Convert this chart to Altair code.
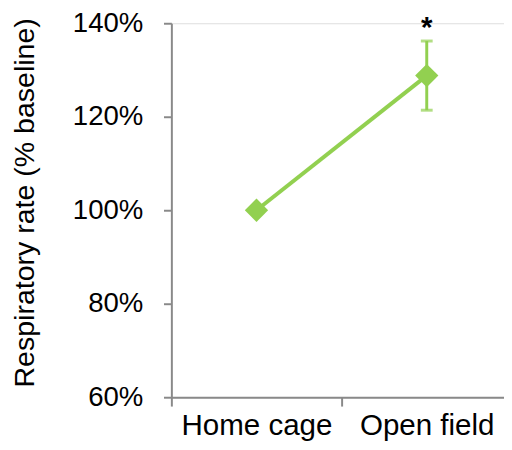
import altair as alt
import pandas as pd

conditions = ["Home cage", "Open field"]
rate_pct = [100.0, 128.8]
sem_pct = [0.0, 7.4]
significance = ["", "*"]
y_ticks = [60, 80, 100, 120, 140]

GREEN = "#92D050"
GRAY = "#898989"
FONT = "Liberation Sans"

df = pd.DataFrame({
    "cond": conditions,
    "rate": rate_pct,
    "err": sem_pct,
    "sig": significance,
})
df["lo"] = df["rate"] - df["err"]
df["hi"] = df["rate"] + df["err"]

x_enc = alt.X(
    "cond:N",
    sort=conditions,
    scale=alt.Scale(type="band", domain=conditions, range=[0, 346], paddingInner=0, paddingOuter=0),
    axis=alt.Axis(
        title=None, labelAngle=0, tickBand="extent", tickSize=9, tickWidth=2,
        domainWidth=2, domainColor=GRAY, tickColor=GRAY, labelFontSize=30,
        labelFont=FONT, labelColor="black", labelPadding=5,
    ),
)
y_scale = alt.Scale(domain=[60, 140], nice=False, zero=False)
y_axis = alt.Axis(
    title="Respiratory rate (% baseline)", values=y_ticks, labelExpr="datum.value + '%'",
    grid=False, tickSize=8, tickWidth=2, domainWidth=2, domainColor=GRAY, tickColor=GRAY,
    labelFontSize=28, labelFont=FONT, labelColor="black", labelPadding=21,
    titleFontSize=29, titleFont=FONT, titleFontWeight="normal", titleColor="black",
    titlePadding=33, titleY=182,
)

base = alt.Chart(df)

line = base.mark_line(color=GREEN, strokeWidth=4).encode(
    x=x_enc, y=alt.Y("rate:Q", scale=y_scale, axis=y_axis)
)
err = base.transform_filter("datum.err > 0").mark_rule(color=GREEN, strokeWidth=3).encode(
    x=x_enc, y=alt.Y("lo:Q", scale=y_scale), y2="hi:Q"
)
cap_lo = base.transform_filter("datum.err > 0").mark_tick(color=GREEN, thickness=3, size=12, orient="horizontal").encode(
    x=x_enc, y=alt.Y("lo:Q", scale=y_scale)
)
cap_hi = base.transform_filter("datum.err > 0").mark_tick(color=GREEN, thickness=3, size=12, orient="horizontal").encode(
    x=x_enc, y=alt.Y("hi:Q", scale=y_scale)
)
pts = base.mark_point(shape="diamond", filled=True, size=560, color=GREEN, opacity=1).encode(
    x=x_enc, y=alt.Y("rate:Q", scale=y_scale)
)
star = base.mark_text(fontSize=30, font=FONT, fontWeight="bold", color="black", baseline="alphabetic", dy=-4).encode(
    x=x_enc, y=alt.Y("hi:Q", scale=y_scale), text="sig:N"
)

chart = alt.layer(line, err, cap_lo, cap_hi, pts, star).properties(
    width=338, height=380,
    autosize=alt.AutoSizeParams(type="none"),
    padding={"left": 166, "top": 12, "right": 0, "bottom": 42},
).configure_view(stroke=None).configure(background="white")

chart.save("out.html", embed_options={"renderer": "svg", "actions": False})
